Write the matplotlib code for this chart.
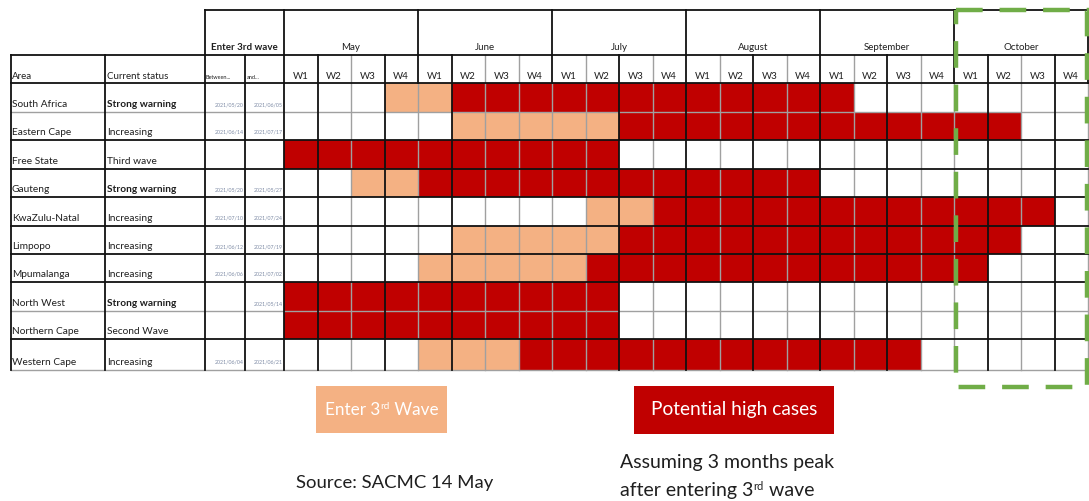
import matplotlib
matplotlib.use("Agg")
import matplotlib.pyplot as plt
import numpy as np
from matplotlib.colors import ListedColormap
from matplotlib.patches import Rectangle

plt.rcParams['font.family'] = ['Lato', 'DejaVu Sans']

# ---- data -------------------------------------------------------------
areas = ["South Africa", "Eastern Cape", "Free State", "Gauteng", "KwaZulu-Natal",
         "Limpopo", "Mpumalanga", "North West", "Northern Cape", "Western Cape"]
statuses = ["Strong warning", "Increasing", "Third wave", "Strong warning", "Increasing",
            "Increasing", "Increasing", "Strong warning", "Second Wave", "Increasing"]
enter_from = ["2021/05/20", "2021/06/14", "", "2021/05/20", "2021/07/10",
              "2021/06/12", "2021/06/06", "", "", "2021/06/04"]
enter_to = ["2021/06/05", "2021/07/17", "", "2021/05/27", "2021/07/24",
            "2021/07/19", "2021/07/02", "2021/05/14", "", "2021/06/21"]
months = ["May", "June", "July", "August", "September", "October"]
week_labels = ["W1", "W2", "W3", "W4"]

# 0 = nothing, 1 = enter 3rd wave, 2 = potential high cases (May W1 .. Oct W4)
weekly_status = [
    [0, 0, 0, 1, 1, 2, 2, 2, 2, 2, 2, 2, 2, 2, 2, 2, 2, 0, 0, 0, 0, 0, 0, 0],
    [0, 0, 0, 0, 0, 1, 1, 1, 1, 1, 2, 2, 2, 2, 2, 2, 2, 2, 2, 2, 2, 2, 0, 0],
    [2, 2, 2, 2, 2, 2, 2, 2, 2, 2, 0, 0, 0, 0, 0, 0, 0, 0, 0, 0, 0, 0, 0, 0],
    [0, 0, 1, 1, 2, 2, 2, 2, 2, 2, 2, 2, 2, 2, 2, 2, 0, 0, 0, 0, 0, 0, 0, 0],
    [0, 0, 0, 0, 0, 0, 0, 0, 0, 1, 1, 2, 2, 2, 2, 2, 2, 2, 2, 2, 2, 2, 2, 0],
    [0, 0, 0, 0, 0, 1, 1, 1, 1, 1, 2, 2, 2, 2, 2, 2, 2, 2, 2, 2, 2, 2, 0, 0],
    [0, 0, 0, 0, 1, 1, 1, 1, 1, 2, 2, 2, 2, 2, 2, 2, 2, 2, 2, 2, 2, 0, 0, 0],
    [2, 2, 2, 2, 2, 2, 2, 2, 2, 2, 0, 0, 0, 0, 0, 0, 0, 0, 0, 0, 0, 0, 0, 0],
    [2, 2, 2, 2, 2, 2, 2, 2, 2, 2, 0, 0, 0, 0, 0, 0, 0, 0, 0, 0, 0, 0, 0, 0],
    [0, 0, 0, 0, 1, 1, 1, 2, 2, 2, 2, 2, 2, 2, 2, 2, 2, 2, 2, 0, 0, 0, 0, 0],
]

# ---- styling ----------------------------------------------------------
ORANGE = "#F4B183"
RED = "#C00000"
GREEN = "#70AD47"
TXT = "#1F1F1F"
DATE_C = "#7F8CA6"

W, H = 1089, 501
fig = plt.figure(figsize=(W / 100, H / 100), dpi=100)
ax = fig.add_axes([0, 0, 1, 1])
ax.set_xlim(0, W)
ax.set_ylim(H, 0)
ax.axis("off")
renderer = fig.canvas.get_renderer()


def run_text(x, y, runs, ha="left", color=TXT):
    """Draw consecutive text runs (text, size, raise) on one baseline."""
    widths = []
    for s, size, _ in runs:
        t = ax.text(0, 0, s, fontsize=size)
        widths.append(t.get_window_extent(renderer).width)
        t.remove()
    total = sum(widths)
    x0 = x - total / 2 if ha == "center" else x
    for (s, size, dy), w in zip(runs, widths):
        ax.text(x0, y - dy, s, fontsize=size, color=color, ha="left", va="baseline")
        x0 += w


# table geometry (canvas units)
x_area, x_status, x_d1, x_d2, x_w0, x_end = 11, 105, 205, 245, 284, 1088
n_weeks = len(months) * len(week_labels)
x_edges = np.linspace(x_w0, x_end, n_weeks + 1)
y_top, y_mid, y_head = 10, 55, 83
y_edges = np.array([83, 112, 140, 169, 197, 226, 254, 282, 311, 339, 370])

grid = np.array(weekly_status)
cmap = ListedColormap(["white", ORANGE, RED])
ax.pcolormesh(x_edges, y_edges, grid, cmap=cmap, vmin=-0.5, vmax=2.5, zorder=1)

BLK = dict(color="#111111", lw=1.3, zorder=3)
GRY = dict(color="#A0A0A0", lw=1.0, zorder=2.5)

# horizontal rules
ax.plot([x_d1, x_end], [y_top, y_top], **BLK)
ax.plot([x_area, x_end], [y_mid, y_mid], **BLK)
ax.plot([x_area, x_end], [y_head, y_head], **BLK)
row_line_black = [True, False, True, True, True, True, True, True, False, True, False]
for y, blk in zip(y_edges, row_line_black):
    if y == y_head:
        continue
    ax.plot([x_area, x_end], [y, y], **(BLK if blk else GRY))

# vertical rules, left block
for x in (x_area, x_status):
    ax.plot([x, x], [y_mid, y_edges[-1]], **BLK)
ax.plot([x_d1, x_d1], [y_top, y_edges[-1]], **BLK)
ax.plot([x_d2, x_d2], [y_mid, y_edges[-1]], **BLK)

# vertical rules, week grid
week_line_black = [True, True, False, True, False, True, False, False, False, False,
                   True, False, True, False, True, False, True, False, True, False,
                   False, True, False, True, False]
for i, x in enumerate(x_edges):
    if i % 4 == 0:
        ax.plot([x, x], [y_top, y_head], **BLK)
    ax.plot([x, x], [y_mid if i % 4 else y_head, y_edges[-1]],
            **(BLK if week_line_black[i] else GRY))

# header texts
ax.text((x_d1 + x_w0) / 2, 50, "Enter 3rd wave", ha="center", va="baseline",
        fontsize=7, fontweight="bold", color=TXT)
for m, name in enumerate(months):
    xc = (x_edges[4 * m] + x_edges[4 * m + 4]) / 2
    ax.text(xc, 50, name, ha="center", va="baseline", fontsize=7, color=TXT)
for i in range(n_weeks):
    xc = (x_edges[i] + x_edges[i + 1]) / 2
    ax.text(xc, 79, week_labels[i % 4], ha="center", va="baseline", fontsize=7, color=TXT)
ax.text(x_area + 1, 79, "Area", ha="left", va="baseline", fontsize=7, color=TXT)
ax.text(x_status + 2, 79, "Current status", ha="left", va="baseline", fontsize=7, color=TXT)
ax.text(x_d1 + 1, 79, "Between...", ha="left", va="baseline", fontsize=4, color=TXT)
ax.text(x_d2 + 2, 79, "and...", ha="left", va="baseline", fontsize=4, color=TXT)

# row texts
for r, (a, s, d1, d2) in enumerate(zip(areas, statuses, enter_from, enter_to)):
    yb = y_edges[r + 1] - 5
    ax.text(x_area + 1, yb, a, ha="left", va="baseline", fontsize=7.3, color=TXT)
    ax.text(x_status + 2, yb, s, ha="left", va="baseline", fontsize=7.3, color=TXT,
            fontweight="bold" if s == "Strong warning" else "normal")
    ax.text(x_d2 - 1, yb - 1, d1, ha="right", va="baseline", fontsize=3.8, color=DATE_C)
    ax.text(x_w0 - 1, yb - 1, d2, ha="right", va="baseline", fontsize=3.8, color=DATE_C)

# highlighted October block
ax.add_patch(Rectangle((956, 10), 131, 377, fill=False, edgecolor=GREEN, lw=3.2,
                       linestyle=(0, (6, 3.8)), zorder=5))

# legend boxes
ax.add_patch(Rectangle((316, 386), 131, 47, facecolor=ORANGE, edgecolor="none"))
run_text(381.5, 415, [("Enter 3", 12.3, 0), ("rd", 7.2, 6), (" Wave", 12.3, 0)],
         ha="center", color="white")
ax.add_patch(Rectangle((634, 386), 200, 48, facecolor=RED, edgecolor="none"))
ax.text(734, 415, "Potential high cases", ha="center", va="baseline",
        fontsize=13.8, color="white")

# notes
ax.text(395, 488, "Source: SACMC 14 May", ha="center", va="baseline", fontsize=13.3, color=TXT)
ax.text(620, 468, "Assuming 3 months peak", ha="left", va="baseline", fontsize=14, color=TXT)
run_text(620, 496, [("after entering 3", 14, 0), ("rd", 8, 6.5), (" wave", 14, 0)])

fig.savefig("out.png", dpi=100)
